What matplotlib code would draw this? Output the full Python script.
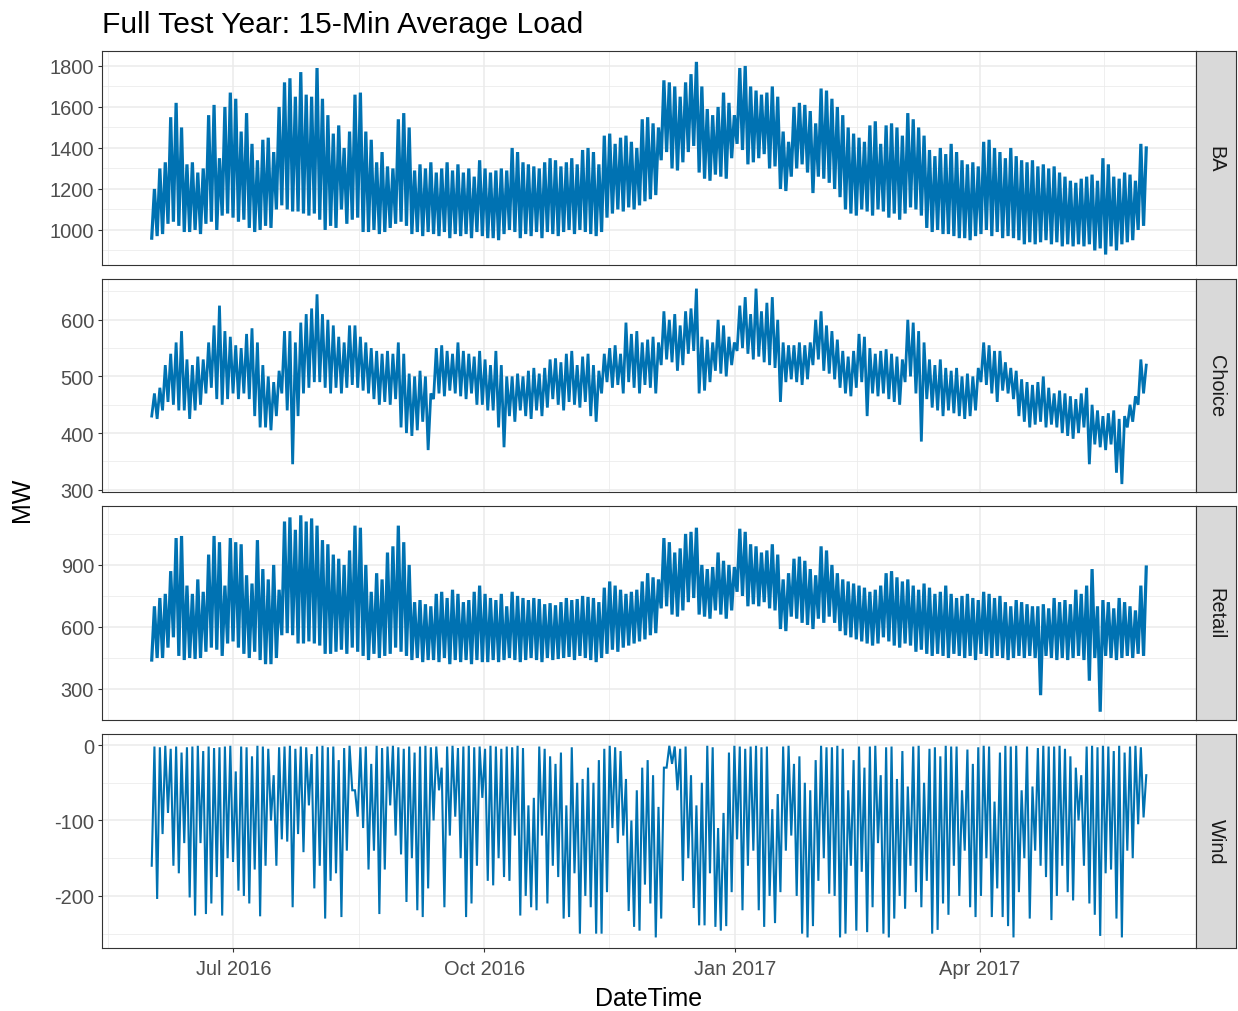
import numpy as np
import pandas as pd
import matplotlib
matplotlib.use("Agg")
import matplotlib.pyplot as plt
import matplotlib.dates as mdates

plt.rcParams['font.family'] = ['Liberation Sans', 'DejaVu Sans']

# Readings: one low and one high value every 2 days,
# 2016-06-01 .. 2017-06-01 (184 pairs per panel)
ba_lo = [960, 970, 980, 1030, 1040, 1020, 990, 990,
         1000, 980, 1030, 1040, 1000, 1070, 1080, 1060,
         1040, 1050, 1010, 990, 1000, 1020, 1010, 1100,
         1120, 1100, 1090, 1090, 1080, 1070, 1080, 1050,
         1000, 1020, 1010, 1100, 1030, 1050, 1060, 990,
         990, 1000, 980, 990, 1010, 1030, 1040, 1020,
         980, 990, 970, 990, 980, 970, 990, 960,
         980, 970, 980, 960, 990, 970, 960, 960,
         950, 980, 1000, 990, 960, 980, 970, 990,
         960, 990, 980, 970, 990, 1000, 980, 1000,
         990, 980, 970, 990, 1060, 1080, 1100, 1090,
         1110, 1100, 1120, 1140, 1150, 1170, 1340, 1380,
         1300, 1290, 1330, 1380, 1410, 1280, 1250, 1240,
         1270, 1260, 1250, 1350, 1420, 1390, 1320, 1330,
         1350, 1370, 1300, 1310, 1200, 1190, 1260, 1300,
         1320, 1280, 1180, 1260, 1250, 1230, 1200, 1160,
         1100, 1080, 1070, 1100, 1090, 1070, 1100, 1090,
         1060, 1080, 1050, 1080, 1110, 1100, 1070, 1010,
         990, 1000, 980, 980, 970, 960, 960, 950,
         970, 980, 1000, 970, 990, 960, 970, 960,
         950, 930, 940, 930, 940, 950, 930, 940,
         920, 930, 920, 930, 920, 930, 900, 910,
         880, 920, 900, 930, 940, 950, 1000, 1020]
ba_hi = [1200, 1300, 1330, 1550, 1620, 1500, 1320, 1330,
         1280, 1300, 1560, 1610, 1350, 1600, 1670, 1640,
         1480, 1570, 1420, 1340, 1440, 1450, 1380, 1600,
         1720, 1740, 1650, 1770, 1660, 1650, 1790, 1640,
         1560, 1470, 1510, 1400, 1480, 1660, 1670, 1480,
         1440, 1330, 1380, 1310, 1300, 1540, 1570, 1500,
         1290, 1320, 1300, 1330, 1280, 1300, 1330, 1290,
         1320, 1280, 1300, 1260, 1340, 1300, 1280, 1290,
         1300, 1290, 1400, 1380, 1330, 1320, 1310, 1300,
         1330, 1350, 1340, 1310, 1330, 1350, 1320, 1390,
         1400, 1380, 1320, 1460, 1470, 1420, 1450, 1460,
         1430, 1400, 1540, 1550, 1520, 1500, 1730, 1720,
         1700, 1650, 1720, 1760, 1820, 1700, 1590, 1560,
         1600, 1670, 1620, 1560, 1790, 1800, 1700, 1680,
         1660, 1670, 1700, 1650, 1480, 1430, 1600, 1620,
         1610, 1580, 1520, 1690, 1680, 1640, 1600, 1560,
         1500, 1470, 1450, 1430, 1510, 1530, 1420, 1510,
         1520, 1500, 1460, 1570, 1540, 1500, 1460, 1390,
         1360, 1400, 1370, 1420, 1380, 1340, 1320, 1330,
         1310, 1430, 1440, 1400, 1380, 1350, 1400, 1360,
         1340, 1330, 1340, 1310, 1320, 1300, 1310, 1280,
         1260, 1240, 1230, 1250, 1260, 1270, 1240, 1350,
         1320, 1260, 1250, 1280, 1270, 1240, 1420, 1400]

choice_lo = [430, 425, 440, 455, 450, 440, 440, 425,
             440, 450, 470, 480, 460, 450, 460, 470,
             460, 470, 460, 430, 410, 410, 405, 430,
             470, 440, 345, 430, 470, 480, 490, 490,
             480, 470, 480, 470, 480, 485, 480, 475,
             470, 460, 450, 455, 450, 460, 410, 400,
             395, 405, 420, 370, 460, 470, 465, 475,
             470, 465, 460, 470, 450, 450, 440, 440,
             410, 375, 430, 420, 440, 430, 425, 440,
             430, 445, 460, 450, 440, 455, 450, 445,
             455, 430, 420, 470, 490, 480, 485, 470,
             490, 480, 470, 485, 480, 470, 520, 530,
             525, 510, 520, 540, 545, 470, 475, 490,
             510, 505, 500, 520, 545, 550, 540, 530,
             535, 525, 520, 515, 455, 490, 495, 490,
             485, 495, 520, 530, 510, 505, 495, 480,
             470, 465, 480, 490, 430, 470, 465, 470,
             460, 455, 450, 490, 500, 470, 385, 460,
             445, 440, 430, 440, 435, 430, 425, 430,
             440, 490, 485, 470, 455, 475, 470, 460,
             430, 420, 410, 415, 420, 410, 415, 410,
             400, 395, 390, 400, 410, 345, 380, 375,
             370, 380, 330, 310, 410, 420, 450, 470]
choice_hi = [470, 480, 520, 540, 560, 580, 530, 520,
             535, 530, 560, 590, 625, 580, 570, 555,
             550, 575, 585, 560, 520, 500, 490, 510,
             580, 580, 560, 595, 610, 620, 645, 610,
             600, 590, 570, 560, 590, 590, 570, 560,
             550, 545, 540, 545, 540, 560, 540, 505,
             500, 510, 500, 470, 550, 555, 545, 540,
             560, 545, 540, 535, 545, 530, 520, 545,
             520, 500, 500, 505, 500, 510, 515, 505,
             515, 530, 532, 525, 540, 545, 520, 535,
             540, 520, 510, 540, 550, 555, 540, 595,
             575, 580, 560, 565, 570, 560, 615, 600,
             610, 590, 615, 620, 655, 570, 565, 560,
             600, 590, 570, 560, 625, 640, 610, 655,
             615, 630, 640, 600, 560, 555, 555, 560,
             555, 560, 600, 615, 590, 580, 565, 545,
             535, 545, 575, 570, 550, 540, 545, 548,
             540, 535, 530, 600, 595, 580, 560, 530,
             520, 530, 515, 510, 515, 500, 505, 500,
             515, 560, 555, 545, 545, 525, 515, 510,
             495, 490, 485, 490, 500, 480, 470, 475,
             470, 465, 460, 470, 480, 450, 440, 430,
             435, 440, 425, 430, 450, 465, 530, 520]

retail_lo = [440, 450, 450, 500, 550, 460, 440, 450,
             445, 450, 480, 500, 490, 460, 520, 530,
             500, 470, 450, 480, 440, 420, 420, 450,
             560, 570, 560, 520, 520, 530, 520, 510,
             470, 470, 480, 490, 470, 500, 480, 460,
             440, 470, 450, 460, 470, 500, 480, 460,
             440, 450, 430, 440, 440, 430, 450, 420,
             440, 430, 440, 420, 440, 430, 430, 440,
             430, 440, 450, 440, 430, 440, 450, 440,
             430, 450, 440, 445, 450, 455, 440, 460,
             450, 440, 430, 450, 470, 490, 480, 500,
             510, 520, 530, 540, 560, 570, 690, 700,
             660, 650, 680, 720, 740, 660, 650, 640,
             680, 660, 640, 680, 770, 750, 700, 710,
             700, 720, 690, 680, 590, 580, 650, 640,
             620, 610, 590, 640, 620, 650, 620, 580,
             560, 550, 540, 530, 520, 510, 520, 550,
             530, 510, 500, 520, 510, 480, 490, 470,
             460, 470, 460, 450, 470, 460, 450, 460,
             440, 470, 460, 450, 460, 450, 440, 450,
             460, 450, 460, 450, 270, 460, 450, 440,
             450, 440, 450, 460, 440, 340, 450, 190,
             460, 450, 440, 450, 460, 450, 470, 460]
retail_hi = [700, 740, 760, 870, 1030, 1040, 800, 760,
             830, 770, 950, 1040, 1010, 800, 1030, 1010,
             1000, 850, 810, 1020, 880, 830, 900, 780,
             1110, 1130, 1070, 1140, 1110, 1125, 1090, 1020,
             1000, 950, 930, 900, 970, 1090, 1080, 900,
             770, 860, 830, 960, 990, 1090, 1010, 900,
             720, 730, 710, 700, 760, 770, 740, 780,
             760, 720, 730, 770, 800, 760, 740, 730,
             760, 700, 770, 750, 740, 730, 740, 735,
             710, 715, 705, 720, 740, 730, 735, 750,
             745, 740, 720, 790, 820, 800, 780, 760,
             770, 780, 820, 860, 840, 830, 1030, 1010,
             960, 980, 1050, 1060, 1080, 900, 880, 890,
             960, 920, 900, 890, 1075, 1060, 1000, 990,
             960, 970, 1000, 950, 830, 860, 930, 940,
             920, 880, 850, 990, 970, 900, 860, 830,
             820, 810, 800, 790, 770, 780, 800, 860,
             870, 840, 820, 830, 800, 780, 810, 790,
             760, 770, 800, 760, 740, 750, 760, 740,
             730, 770, 760, 740, 750, 720, 700, 730,
             720, 710, 700, 700, 710, 690, 740, 720,
             730, 710, 780, 760, 800, 880, 700, 730,
             720, 690, 740, 720, 700, 680, 800, 890]

wind_lo = [-160, -204, -118, -90, -160, -170, -130, -202,
           -226, -130, -224, -210, -175, -226, -150, -155,
           -193, -200, -210, -165, -227, -160, -100, -160,
           -125, -128, -215, -118, -142, -80, -190, -160,
           -230, -180, -170, -228, -140, -60, -95, -110,
           -165, -140, -224, -165, -80, -120, -145, -208,
           -150, -219, -228, -190, -100, -60, -215, -120,
           -95, -150, -228, -210, -160, -70, -180, -186,
           -150, -175, -180, -120, -226, -200, -215, -219,
           -120, -210, -160, -175, -230, -228, -170, -250,
           -200, -215, -250, -250, -195, -110, -130, -120,
           -220, -241, -246, -185, -210, -255, -230, -30,
           -25, -60, -180, -150, -216, -239, -239, -170,
           -241, -246, -240, -195, -125, -219, -160, -140,
           -219, -241, -200, -236, -195, -140, -120, -200,
           -250, -255, -240, -180, -150, -197, -200, -255,
           -250, -160, -246, -168, -248, -215, -130, -250,
           -255, -230, -200, -217, -160, -195, -215, -180,
           -250, -245, -210, -225, -160, -200, -140, -215,
           -228, -200, -150, -228, -190, -228, -240, -255,
           -195, -150, -230, -140, -160, -175, -232, -200,
           -160, -195, -206, -100, -160, -210, -225, -253,
           -170, -165, -230, -255, -140, -150, -105, -96]
wind_hi = [-2, -3, -1, -5, -2, -10, -3, -2,
           -1, -8, -2, -4, -3, -2, -1, -35,
           -2, -3, -15, -1, -2, -5, -40, -3,
           -2, -1, -5, -2, -3, -12, -2, -1,
           -3, -2, -20, -4, -1, -60, -3, -2,
           -25, -1, -4, -2, -1, -3, -5, -2,
           -10, -2, -1, -3, -2, -30, -2, -1,
           -4, -2, -1, -3, -2, -5, -1, -2,
           -5, -2, -3, -1, -4, -80, -70, -2,
           -5, -15, -25, -10, -80, -3, -50, -45,
           -30, -50, -20, -5, -1, -3, -8, -45,
           -100, -60, -30, -20, -40, -82, -30, -1,
           -2, -5, -2, -40, -80, -50, -1, -3,
           -110, -90, -10, -1, -2, -5, -2, -1,
           -3, -2, -85, -65, -2, -1, -25, -15,
           -50, -60, -20, -1, -3, -3, -1, -5,
           -60, -20, -2, -30, -2, -1, -40, -3,
           -2, -45, -8, -55, -2, -1, -50, -5,
           -3, -15, -1, -2, -2, -60, -6, -25,
           -3, -1, -2, -75, -10, -1, -2, -1,
           -60, -2, -55, -4, -1, -2, -2, -1,
           -5, -15, -30, -40, -2, -1, -3, -1,
           -2, -8, -1, -10, -2, -1, -3, -40]

facets = ["BA", "Choice", "Retail", "Wind"]
y_limits = [(829, 1873), (296, 672), (150, 1185), (-269, 14.6)]
y_major = [[1000, 1200, 1400, 1600, 1800], [300, 400, 500, 600],
           [300, 600, 900], [-200, -100, 0]]
y_minor = [[900, 1100, 1300, 1500, 1700], [350, 450, 550, 650],
           [150, 450, 750, 1050], [-250, -150, -50]]
x_major = ["2016-07-01", "2016-10-01", "2017-01-01", "2017-04-01"]
x_labels = ["Jul 2016", "Oct 2016", "Jan 2017", "Apr 2017"]
line_w = [2.3, 2.0, 2.3, 1.5]


def interleave(lo, hi):
    n = min(len(lo), len(hi))
    vals = np.empty(2 * n)
    vals[0::2] = lo[:n]
    vals[1::2] = hi[:n]
    return vals


series = [interleave(ba_lo, ba_hi), interleave(choice_lo, choice_hi),
          interleave(retail_lo, retail_hi), interleave(wind_lo, wind_hi)]

W, H = 1238, 1012
fig = plt.figure(figsize=(W / 100, H / 100), dpi=100)

panel_px = [(52, 266), (280, 493), (507, 721), (735, 949)]
left_px, right_px, strip_px = 102, 1196, 1236

start = mdates.date2num(pd.Timestamp("2016-06-01"))
end = mdates.date2num(pd.Timestamp("2017-06-01"))
pad = (end - start) * 0.05
xmaj = [mdates.date2num(pd.Timestamp(d)) for d in x_major]
step = xmaj[1] - xmaj[0]
xmin = [xmaj[0] - step / 2] + [(a + b) / 2 for a, b in zip(xmaj[:-1], xmaj[1:])] + \
       [xmaj[-1] + (mdates.date2num(pd.Timestamp("2017-07-01")) - xmaj[-1]) / 2]

for i, name in enumerate(facets):
    top, bot = panel_px[i]
    ax = fig.add_axes([left_px / W, 1 - bot / H, (right_px - left_px) / W, (bot - top) / H])
    vals = series[i]
    t = np.linspace(start, end, len(vals))
    ax.plot(t, vals, color="#0072B2", lw=line_w[i], zorder=3, solid_joinstyle="miter")

    ax.set_xlim(start - pad, end + pad)
    ax.set_ylim(*y_limits[i])
    ax.set_yticks(y_major[i])
    ax.set_yticklabels([str(v) for v in y_major[i]])
    ax.set_yticks(y_minor[i], minor=True)
    ax.set_xticks(xmaj)
    ax.set_xticks(xmin, minor=True)
    ax.set_xticklabels(x_labels)

    ax.grid(which="major", color="#EBEBEB", lw=1.1)
    ax.grid(which="minor", color="#EBEBEB", lw=0.55)
    ax.set_axisbelow(True)
    ax.tick_params(which="minor", length=0)
    ax.tick_params(which="major", length=3.2, width=0.8, color="#333333",
                   labelsize=14.4, labelcolor="#4D4D4D", pad=2.5)
    ax.tick_params(axis="x", which="major", pad=5)
    if i < len(facets) - 1:
        ax.tick_params(axis="x", which="major", length=0, labelbottom=False)
    for s in ax.spines.values():
        s.set_color("#333333")
        s.set_linewidth(0.8)

    sax = fig.add_axes([right_px / W, 1 - bot / H, (strip_px - right_px) / W, (bot - top) / H])
    sax.set_facecolor("#D9D9D9")
    sax.set_xticks([])
    sax.set_yticks([])
    for s in sax.spines.values():
        s.set_color("#333333")
        s.set_linewidth(0.8)
    sax.text(0.5, 0.5, name, rotation=270, ha="center", va="center",
             fontsize=14.4, color="#1A1A1A", transform=sax.transAxes)

fig.text(left_px / W, 1 - 33 / H, "Full Test Year: 15-Min Average Load",
         fontsize=21.6, color="black", ha="left", va="baseline")
fig.text(22 / W, 1 - 500 / H, "MW", rotation=90, fontsize=18,
         ha="center", va="center")
fig.text(649 / W, 1 - 999 / H, "DateTime", fontsize=18, ha="center", va="center")

fig.savefig("out.png", dpi=100)
